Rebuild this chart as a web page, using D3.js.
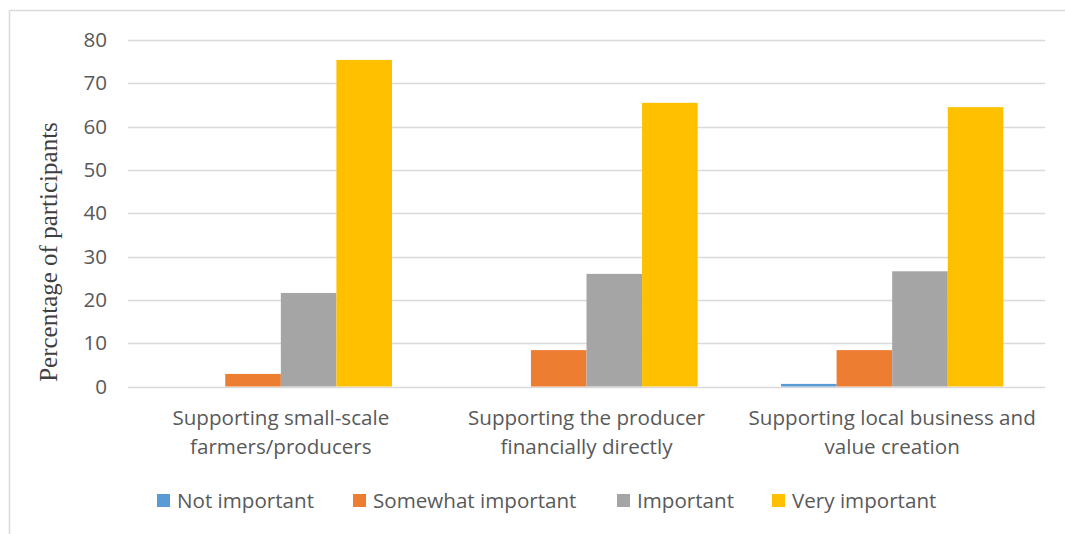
<!DOCTYPE html>
<html><head><meta charset="utf-8">
<script src="https://cdn.jsdelivr.net/npm/d3@7"></script>
<style>body{margin:0;background:#fff}svg{display:block}</style>
</head><body>
<script>
const categories = [["Supporting small-scale","farmers/producers"],["Supporting the producer","financially directly"],["Supporting local business and","value creation"]];
const seriesNames = ["Not important","Somewhat important","Important","Very important"];
const notImportant = [0, 0, 0.6];
const somewhatImportant = [2.9, 8.4, 8.4];
const important = [21.6, 26.0, 26.6];
const veryImportant = [75.4, 65.5, 64.5];
const yTicks = [0,10,20,30,40,50,60,70,80];
const colors = ["#5b9bd5","#ed7d31","#a5a5a5","#ffc000"];
const seriesValues = [notImportant, somewhatImportant, important, veryImportant];

(function(){
const W = 1065, H = 534;
const svg = d3.select("body").append("svg").attr("width", W).attr("height", H);
const font = "'Open Sans', sans-serif";
const textColor = "#595959";
const fs = 20.6;

svg.append("line").attr("x1",9.5).attr("x2",W).attr("y1",10.5).attr("y2",10.5).attr("stroke","#d9d9d9").attr("stroke-width",1.5);
svg.append("line").attr("x1",9.5).attr("x2",9.5).attr("y1",10.5).attr("y2",H).attr("stroke","#d9d9d9").attr("stroke-width",1.5);

const pl = 128, pr = 1045, pt = 40, pb = 386.5;
const y = d3.scaleLinear().domain([0,80]).range([pb, pt]);
const x0 = d3.scaleBand().domain(d3.range(categories.length)).range([pl, pr]);
const groupW = x0.bandwidth();
const barW = groupW / (4 + 1.5);
const x1 = d3.scaleBand().domain(d3.range(4)).range([0, barW*4]);

svg.append("g").selectAll("line").data(yTicks).join("line")
  .attr("x1", pl).attr("x2", pr)
  .attr("y1", d => Math.round(y(d))+0.5).attr("y2", d => Math.round(y(d))+0.5)
  .attr("stroke", "#d9d9d9").attr("stroke-width", 1.3);

const yAxis = d3.axisLeft(y).tickValues(yTicks).tickSize(0).tickPadding(0);
const ya = svg.append("g").attr("transform", `translate(107,0)`).call(yAxis);
ya.select(".domain").remove();
ya.selectAll("text").attr("font-family", font).attr("font-size", fs).attr("fill", textColor);

const groups = svg.append("g").selectAll("g").data(categories.map((c,i)=>i)).join("g")
  .attr("transform", i => `translate(${x0(i) + (groupW - barW*4)/2},0)`);
groups.selectAll("rect").data(i => seriesValues.map((s,k)=>({k, v:s[i]}))).join("rect")
  .attr("x", d => x1(d.k)).attr("width", x1.bandwidth())
  .attr("y", d => y(d.v)).attr("height", d => pb - y(d.v))
  .attr("fill", d => colors[d.k]);

const cat = svg.append("g").selectAll("text").data(categories).join("text")
  .attr("x", (d,i) => x0(i) + groupW/2).attr("y", 425)
  .attr("text-anchor","middle").attr("font-family", font).attr("font-size", fs).attr("fill", textColor);
cat.selectAll("tspan").data(d => d).join("tspan")
  .attr("x", function(){ return this.parentNode.getAttribute("x"); })
  .attr("dy", (d,j) => j ? 29 : 0).text(d => d);

svg.append("text").attr("transform", "translate(57,252) rotate(-90)")
  .attr("text-anchor","middle").attr("font-family","'Liberation Serif','Times New Roman',serif")
  .attr("font-size", 25).attr("fill", "#404040").text("Percentage of participants");

const legendX = [157, 353, 617, 772];
const lg = svg.append("g").selectAll("g").data(seriesNames).join("g")
  .attr("transform", (d,i) => `translate(${legendX[i]},494)`);
lg.append("rect").attr("width", 13).attr("height", 13).attr("fill", (d,i) => colors[i]);
lg.append("text").attr("x", 20).attr("y", 13.5).attr("font-family", font).attr("font-size", fs)
  .attr("fill", textColor).text(d => d);
})();
</script>
</body></html>
